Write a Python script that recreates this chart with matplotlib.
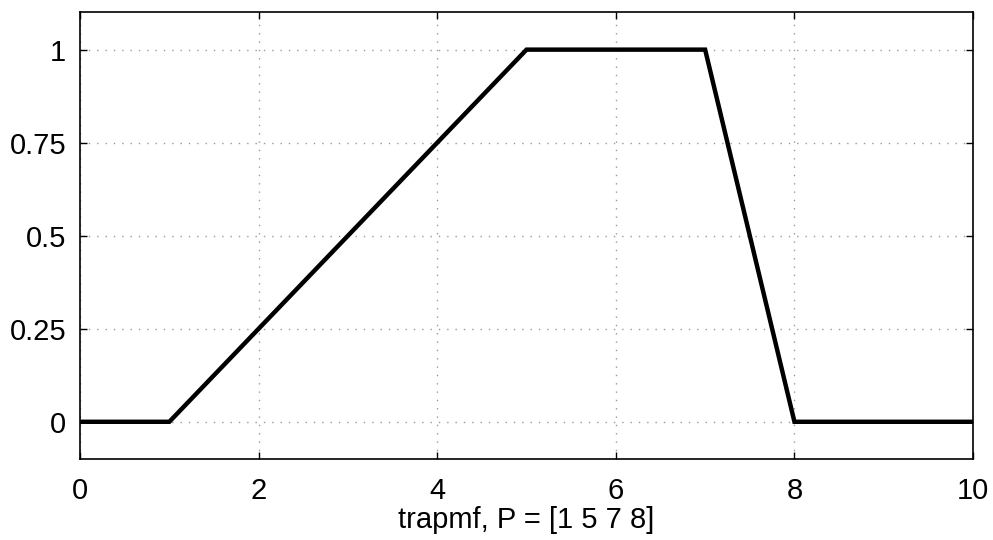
import numpy as np
import matplotlib.pyplot as plt

# datos de la funcion trapezoidal
x = [0, 1, 5, 7, 8, 10]
y = [0, 0, 1, 1, 0, 0]
xticks = [0, 2, 4, 6, 8, 10]
yticks = [0, 0.25, 0.5, 0.75, 1]
yticklabels = ['0', '0.25', '0.5', '0.75', '1']

plt.rcParams['font.family'] = ['Liberation Sans', 'DejaVu Sans']

fig = plt.figure(figsize=(9.93, 5.4), dpi=100)
ax = fig.add_axes([0.0806, 0.15, 0.8993, 0.827])

ax.plot(x, y, color='black', linewidth=3.2, solid_joinstyle='miter')

ax.set_xlim(0, 10)
ax.set_ylim(-0.1, 1.1)
ax.set_xticks(xticks)
ax.set_yticks(yticks)
ax.set_yticklabels(yticklabels)
ax.grid(True, linestyle=(0, (1, 5)), color='#999999', linewidth=1)
ax.tick_params(direction='in', top=True, right=True, length=5, width=1,
               labelsize=21)
ax.tick_params(axis='x', pad=13)
ax.tick_params(axis='y', pad=10)
for s in ax.spines.values():
    s.set_linewidth(1.2)

ax.set_xlabel('trapmf, P = [1 5 7 8]', fontsize=21, labelpad=1)

fig.savefig('out.png', dpi=100)
